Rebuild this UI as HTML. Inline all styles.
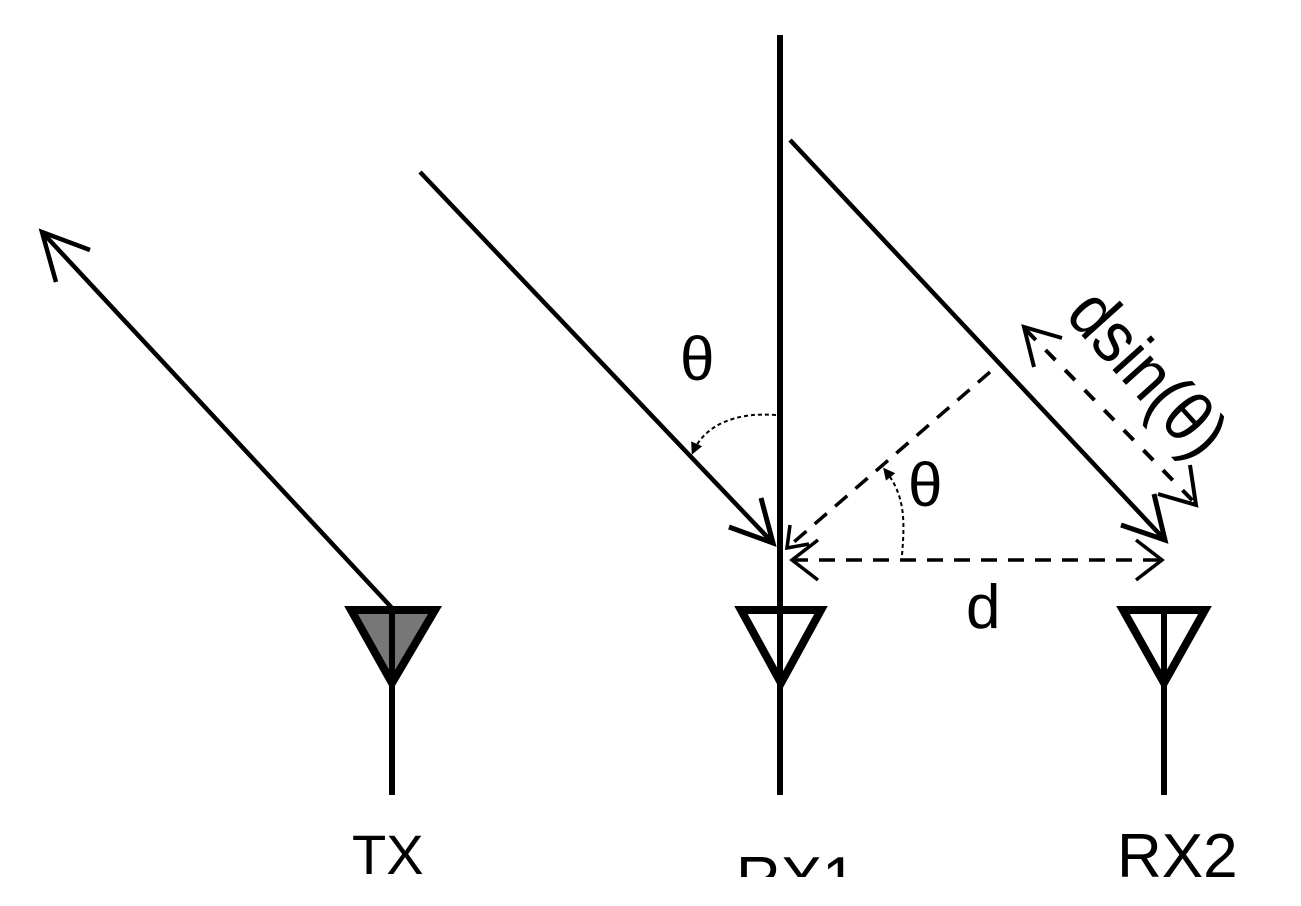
<!DOCTYPE html>
<html><head><meta charset="utf-8"><style>
html,body{margin:0;padding:0;background:#fff;}
svg{display:block;}
text{font-family:"Liberation Sans",sans-serif;fill:#000;}
</style></head><body>
<svg width="1301" height="906" viewBox="0 0 1301 906" xmlns="http://www.w3.org/2000/svg">
<defs>
<marker id="fa" markerWidth="12" markerHeight="12" refX="9" refY="6" orient="auto" markerUnits="userSpaceOnUse">
<path d="M0,0 L12,6 L0,12 Z" fill="#000"/></marker>
</defs>
<g stroke="#000" fill="none" stroke-linecap="butt">
<polygon points="351,610 435,610 392,683" fill="#777" stroke-width="8"/>
<line x1="392" y1="606" x2="392" y2="795" stroke-width="6"/>
<polygon points="741,610 821,610 781,683" fill="#fff" stroke-width="8"/>
<line x1="780" y1="35" x2="780" y2="795" stroke-width="6"/>
<polygon points="1123,610 1205,610 1164,683" fill="#fff" stroke-width="8"/>
<line x1="1164" y1="606" x2="1164" y2="795" stroke-width="6"/>
<line x1="392" y1="608" x2="42" y2="232" stroke-width="4.5"/>
<polyline points="90,250 42,232 56,282" stroke-width="4.5"/>
<line x1="420" y1="172" x2="773" y2="543" stroke-width="4.5"/>
<polyline points="729,527 773,543 761,498" stroke-width="5"/>
<line x1="790" y1="140" x2="1165" y2="540" stroke-width="4.5"/>
<polyline points="1121,525 1165,540 1154,494" stroke-width="5"/>
<line x1="990" y1="372" x2="787" y2="548" stroke-width="3.5" stroke-dasharray="16,11"/>
<polyline points="790,525 787,548 809,544" stroke-width="3.5"/>
<line x1="792" y1="560" x2="1162" y2="560" stroke-width="3.5" stroke-dasharray="16,11"/>
<polyline points="818,540 792,560 818,580" stroke-width="3.5"/>
<polyline points="1136,540 1162,560 1136,580" stroke-width="3.5"/>
<line x1="1026" y1="330" x2="1195" y2="503" stroke-width="4" stroke-dasharray="14,14"/>
<polyline points="1034,367 1024,327 1062,338" stroke-width="4"/>
<polyline points="1190,465 1196,505 1158,494" stroke-width="4"/>
<path d="M776,415 C735,412 705,425 693,452" stroke-width="2" stroke-dasharray="4,3" marker-end="url(#fa)"/>
<path d="M902,555 C905,520 905,495 885,470" stroke-width="2" stroke-dasharray="4,3" marker-end="url(#fa)"/>
</g>
<text x="680" y="380" font-size="62">θ</text>
<text x="908" y="506" font-size="62">θ</text>
<text x="966" y="628" font-size="62">d</text>
<text transform="translate(1064,316) rotate(48) scale(0.95,1.05)" font-size="68">dsin(θ)</text>
<text x="352" y="874" font-size="56">TX</text>
<text x="736" y="900" font-size="62">RX1</text>
<text x="1117" y="877" font-size="62">RX2</text>
<rect x="700" y="877" width="300" height="29" fill="#fff"/>
</svg>
</body></html>
